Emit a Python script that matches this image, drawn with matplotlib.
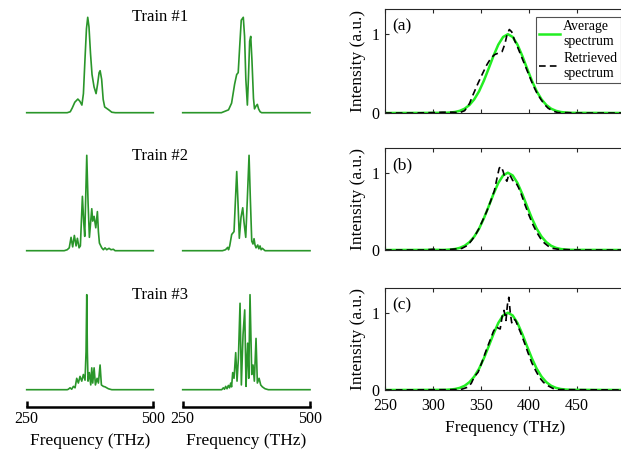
import matplotlib
matplotlib.use("Agg")
import matplotlib.pyplot as plt

plt.rcParams["font.family"] = ["Liberation Serif", "DejaVu Serif"]

# ---- single-shot spectra of the three pulse trains (two shots each) ----
t1a_f = [250, 330, 336, 340, 345, 351, 355, 359, 362, 365, 368, 370.5, 373, 376, 379, 383,
         387, 390, 393, 395, 398, 401, 404, 408, 412, 418, 425, 500]
t1a_i = [0, 0, 0.01, 0.05, 0.11, 0.143, 0.12, 0.08, 0.2, 0.55, 0.88, 1.0, 0.9, 0.62, 0.4, 0.27,
         0.2, 0.3, 0.42, 0.44, 0.35, 0.14, 0.06, 0.045, 0.03, 0.005, 0, 0]
t1b_f = [250, 326, 340, 346, 352, 356, 359, 362, 365, 369, 371.5, 374, 377, 379, 381.5, 383.6,
         386, 389, 391, 394, 396.6, 399, 402, 405, 500]
t1b_i = [0, 0, 0.03, 0.1, 0.3, 0.4, 0.42, 0.7, 0.97, 1.0, 0.8, 0.35, 0.08, 0.35, 0.75, 0.8,
         0.55, 0.15, 0.04, 0.07, 0.087, 0.04, 0.01, 0, 0]

t2a_f = [250, 324, 330, 334, 337.6, 340.8, 344.1, 347.5, 350.1, 353.4, 356, 360, 362.6, 364.6,
         368.6, 371.2, 373.8, 378.5, 380.4, 383.1, 386.4, 389.6, 391.6, 393.6, 398.2, 401.4,
         404.7, 408, 412.6, 416.5, 421.1, 424.5, 500]
t2a_i = [0, 0, 0.01, 0.03, 0.14, 0.04, 0.16, 0.05, 0.13, 0.03, 0.05, 0.57, 0.3, 0.15,
         1.0, 0.5, 0.14, 0.44, 0.31, 0.36, 0.24, 0.41, 0.2, 0.08, 0.03, 0.01,
         0.03, 0.01, 0.025, 0.01, 0.015, 0, 0]
t2b_f = [250, 328, 334, 338.4, 340, 342.3, 346.2, 350.8, 353.3, 356.1, 358.6, 361.2, 364.5,
         367.9, 370.4, 373.8, 377, 380.3, 382.8, 385.6, 388, 390.1, 392, 394, 397.4, 399.5,
         401.9, 404, 406.4, 411.7, 500]
t2b_i = [0, 0, 0.01, 0.035, 0.01, 0.05, 0.17, 0.2, 0.5, 0.83, 0.5, 0.13, 0.35,
         0.45, 0.3, 0.14, 0.55, 1.0, 0.55, 0.1, 0.07, 0.126, 0.06, 0.03, 0.06, 0.02,
         0.05, 0.01, 0.025, 0, 0]

t3a_f = [250, 330, 332.3, 335.6, 338.9, 342.2, 345.5, 348.8, 352, 355.3, 358.7, 361.9, 365.2,
         367.2, 368.6, 369.8, 371.1, 373.8, 376.5, 378.5, 380.4, 383.1, 385.7, 389, 391.6,
         394.9, 397.5, 401.4, 404.7, 411.3, 418, 500]
t3a_i = [0, 0, 0.005, 0.02, 0.005, 0.035, 0.02, 0.12, 0.07, 0.14, 0.09, 0.16, 0.1,
         0.4, 1.0, 0.4, 0.09, 0.18, 0.05, 0.23, 0.07, 0.23, 0.05, 0.12, 0.07,
         0.26, 0.05, 0.035, 0.03, 0.01, 0, 0]
t3b_f = [250, 326.6, 329.8, 332, 334.4, 337, 339.7, 342, 344.3, 346, 348.2, 350.8, 354.1,
         356.7, 359.4, 362.6, 365.2, 368.5, 371.8, 374.4, 376, 377.7, 379.7, 382.2, 385.6,
         388.1, 390.7, 394, 396.6, 400, 403.2, 406.4, 411.7, 418.2, 500]
t3b_i = [0, 0, 0.02, 0.005, 0.035, 0.01, 0.045, 0.02, 0.07, 0.03, 0.18, 0.12, 0.39,
         0.09, 0.33, 0.91, 0.05, 0.58, 0.84, 0.035, 0.3, 0.49, 0.12, 1.0, 0.16,
         0.26, 0.09, 0.54, 0.07, 0.12, 0.05, 0.03, 0.01, 0, 0]

# ---- average vs retrieved spectra ----
avg_f = [250, 313, 318, 323, 328, 333, 338, 343, 348, 353, 358, 363, 368, 373, 378, 383, 388,
         393, 398, 403, 408, 413, 418, 423, 428, 433, 438, 443, 500]
avg_i = [0, 0.002, 0.006, 0.013, 0.028, 0.055, 0.102, 0.174, 0.276, 0.41, 0.565, 0.725, 0.867,
         0.965, 1.0, 0.965, 0.867, 0.725, 0.565, 0.41, 0.276, 0.174, 0.102, 0.055, 0.028,
         0.013, 0.006, 0.002, 0]

ret_a_f = [250, 280, 300, 310, 320, 328, 333, 338, 342, 347, 352, 356, 360, 364, 368, 372, 375,
           377, 379.5, 382, 385, 388, 392, 396, 400, 404, 408, 412, 416, 420, 425, 430, 440,
           450, 500]
ret_a_i = [0, 0, 0.005, 0.01, 0.01, 0.005, 0.03, 0.12, 0.24, 0.38, 0.51, 0.61, 0.69, 0.74, 0.76,
           0.78, 0.88, 0.99, 1.06, 1.03, 0.92, 0.84, 0.72, 0.6, 0.48, 0.36, 0.26, 0.18, 0.11,
           0.06, 0.025, 0.005, 0.005, 0, 0]
ret_b_f = [250, 290, 300, 310, 320, 330, 336, 340, 344, 348, 352, 356, 360, 364, 367, 369, 371,
           373, 375, 377, 379, 381, 383, 386, 389, 392, 396, 400, 404, 408, 412, 416, 420,
           425, 430, 440, 450, 500]
ret_b_i = [0, 0, 0.01, 0, 0.01, 0.02, 0.06, 0.12, 0.19, 0.28, 0.39, 0.5, 0.63, 0.77, 0.95, 1.06,
           1.08, 1.02, 0.93, 0.89, 0.98, 0.95, 0.9, 0.88, 0.81, 0.72, 0.58, 0.45, 0.33, 0.23,
           0.15, 0.09, 0.05, 0.02, 0.01, 0.005, 0, 0]
ret_c_f = [250, 320, 330, 337, 340, 343, 347, 351, 355, 359, 363, 366, 368, 370, 372, 374, 376,
           377.5, 379, 380.5, 382, 384, 386, 388, 391, 395, 399, 403, 407, 411, 415, 419, 425,
           430, 440, 500]
ret_c_i = [0, 0.005, 0.01, 0.04, 0.09, 0.17, 0.23, 0.36, 0.5, 0.63, 0.76, 0.82, 0.8, 0.79, 0.95,
           1.03, 0.9, 1.1, 1.2, 1.0, 0.87, 0.92, 0.9, 0.84, 0.75, 0.62, 0.48, 0.35, 0.25, 0.16,
           0.1, 0.06, 0.02, 0.005, 0.005, 0]

train_labels = ["Train #1", "Train #2", "Train #3"]
panel_labels = ["(a)", "(b)", "(c)"]
shots = [[(t1a_f, t1a_i), (t1b_f, t1b_i)],
         [(t2a_f, t2a_i), (t2b_f, t2b_i)],
         [(t3a_f, t3a_i), (t3b_f, t3b_i)]]
retrieved = [(ret_a_f, ret_a_i), (ret_b_f, ret_b_i), (ret_c_f, ret_c_i)]

W, H = 621, 449
fig = plt.figure(figsize=(W / 100, H / 100), dpi=100)

dark_green = "#2a962a"
lime = "#22ee22"
axis_col = "#262626"

# left column: single-shot spectra, drawn without frames
left_x = [26.7, 182.7]
left_w = [126.6, 127.3]
base_px = [112.7, 250.7, 389.7]
peak_px = [17.3, 155.3, 294.7]
train_y = [17, 156, 295]

for r in range(3):
    for c in range(2):
        ax = fig.add_axes([left_x[c] / W, 1 - base_px[r] / H,
                           left_w[c] / W, (base_px[r] - peak_px[r]) / H])
        f, y = shots[r][c]
        ax.plot(f, y, color=dark_green, lw=1.2, clip_on=False)
        ax.set_xlim(250, 500)
        ax.set_ylim(0, 1)
        for s in ["top", "left", "right"]:
            ax.spines[s].set_visible(False)
        ax.set_yticks([])
        if r == 2:
            ax.spines["bottom"].set_position(("outward", 12.5))
            ax.spines["bottom"].set_linewidth(1.8)
            ax.set_xticks([250, 500])
            ax.tick_params(axis="x", direction="in", length=4, width=1.8, pad=3,
                           labelsize=11.5)
            ax.set_xlabel("Frequency (THz)", fontsize=12.5, labelpad=4)
        else:
            ax.spines["bottom"].set_visible(False)
            ax.set_xticks([])
    fig.text(160 / W, 1 - train_y[r] / H, train_labels[r], ha="center", va="center",
             fontsize=12)

# right column: average vs retrieved spectrum
right_top = [9, 148, 288]
right_bot = [113, 250, 390]
ax_left = 385
ax_w = 240
for r in range(3):
    ax = fig.add_axes([ax_left / W, 1 - right_bot[r] / H, ax_w / W,
                       (right_bot[r] - right_top[r]) / H])
    ax.plot(avg_f, avg_i, color=lime, lw=1.8, label="Average\nspectrum")
    rf, ri = retrieved[r]
    ax.plot(rf, ri, color="black", lw=1.2, ls=(0, (4, 2.5)), label="Retrieved\nspectrum")
    ax.set_xlim(250, 500)
    ax.set_ylim(0, 1.32)
    ax.set_xticks([250, 300, 350, 400, 450])
    ax.set_yticks([0, 1])
    ax.tick_params(direction="in", top=True, right=True, length=3, width=0.8,
                   colors=axis_col, labelcolor="black", labelsize=11.5)
    ax.tick_params(axis="x", pad=6)
    ax.tick_params(axis="y", pad=4)
    for s in ax.spines.values():
        s.set_color(axis_col)
        s.set_linewidth(0.8)
    ax.set_ylabel("Intensity (a.u.)", fontsize=12.5, labelpad=4)
    ax.text(0.03, 0.83, panel_labels[r], transform=ax.transAxes, fontsize=12.5,
            ha="left", va="center")
    if r == 2:
        ax.set_xlabel("Frequency (THz)", fontsize=12.5, labelpad=4)
    else:
        ax.tick_params(labelbottom=False)
    if r == 0:
        leg = ax.legend(loc="upper left", bbox_to_anchor=(0.629, 0.925), fontsize=10,
                        frameon=True, fancybox=False, borderaxespad=0, handlelength=1.5,
                        handletextpad=0.2, borderpad=0.25, labelspacing=0.25)
        leg.get_frame().set_edgecolor(axis_col)
        leg.get_frame().set_linewidth(0.8)

fig.savefig("out.png", dpi=100)
